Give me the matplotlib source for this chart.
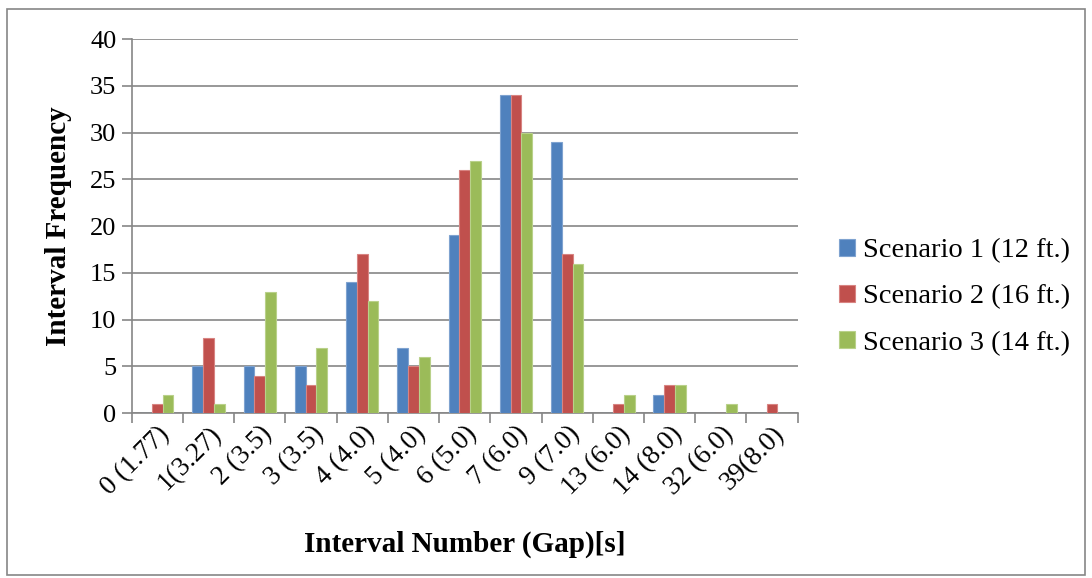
import matplotlib
matplotlib.use("Agg")
import matplotlib.pyplot as plt
from matplotlib.patches import Rectangle
import numpy as np

categories = ["0 (1.77)", "1(3.27)", "2 (3.5)", "3 (3.5)", "4 (4.0)", "5 (4.0)",
              "6 (5.0)", "7 (6.0)", "9 (7.0)", "13 (6.0)", "14 (8.0)", "32 (6.0)", "39(8.0)"]
scenario1 = [0, 5, 5, 5, 14, 7, 19, 34, 29, 0, 2, 0, 0]
scenario2 = [1, 8, 4, 3, 17, 5, 26, 34, 17, 1, 3, 0, 1]
scenario3 = [2, 1, 13, 7, 12, 6, 27, 30, 16, 2, 3, 1, 0]
series_names = ["Scenario 1 (12 ft.)", "Scenario 2 (16 ft.)", "Scenario 3 (14 ft.)"]
colors = ["#4F81BD", "#C0504D", "#9BBB59"]
edges = ["#7FA3D0", "#D88482", "#B9D18A"]

plt.rcParams["font.family"] = ["Liberation Serif", "DejaVu Serif"]

fig = plt.figure(figsize=(10.92, 5.78), dpi=100)
ax = fig.add_axes([0.1205, 0.285, 0.61, 0.6475])

x = np.arange(len(categories))
w = 0.21
for i, (vals, name, c, e) in enumerate(zip([scenario1, scenario2, scenario3], series_names, colors, edges)):
    ax.bar(x + (i - 1) * w, vals, width=w, color=c, edgecolor=e, linewidth=0.8,
           label=name, zorder=3)

ax.set_xlim(-0.5, len(categories) - 0.5)
ax.set_ylim(0, 40)
ax.set_yticks(range(0, 41, 5))
ax.yaxis.grid(True, color="#868686", linewidth=1.2, zorder=0)
ax.set_axisbelow(True)

ax.set_xticks(np.arange(-0.5, len(categories), 1.0))
ax.set_xticklabels([])
ax.set_xticks(x, minor=True)
ax.set_xticklabels(categories, minor=True, rotation=45, ha="right", va="top",
                   rotation_mode="anchor", fontsize=19.5)
ax.tick_params(axis="x", which="minor", length=0, pad=6)
ax.tick_params(axis="x", which="major", length=7, width=1.2, color="#868686")
ax.tick_params(axis="y", length=7, width=1.2, color="#868686", labelsize=19, pad=4)

for s in ["top", "right"]:
    ax.spines[s].set_visible(False)
for s in ["left", "bottom"]:
    ax.spines[s].set_color("#868686")
    ax.spines[s].set_linewidth(1.2)

ax.set_ylabel("Interval Frequency", fontsize=21, fontweight="bold", labelpad=13)
ax.set_xlabel("Interval Number (Gap)[s]", fontsize=21, fontweight="bold", labelpad=22)

fig.legend(loc="center left", bbox_to_anchor=(0.745, 0.486), frameon=False,
           fontsize=20.5, handlelength=0.55, handleheight=0.55, handletextpad=0.3,
           labelspacing=0.75)

fig.patches.append(Rectangle((0.0065, 0.005), 0.987, 0.979, transform=fig.transFigure,
                             fill=False, edgecolor="#868686", linewidth=1.2))

fig.savefig("out.png", dpi=100)
